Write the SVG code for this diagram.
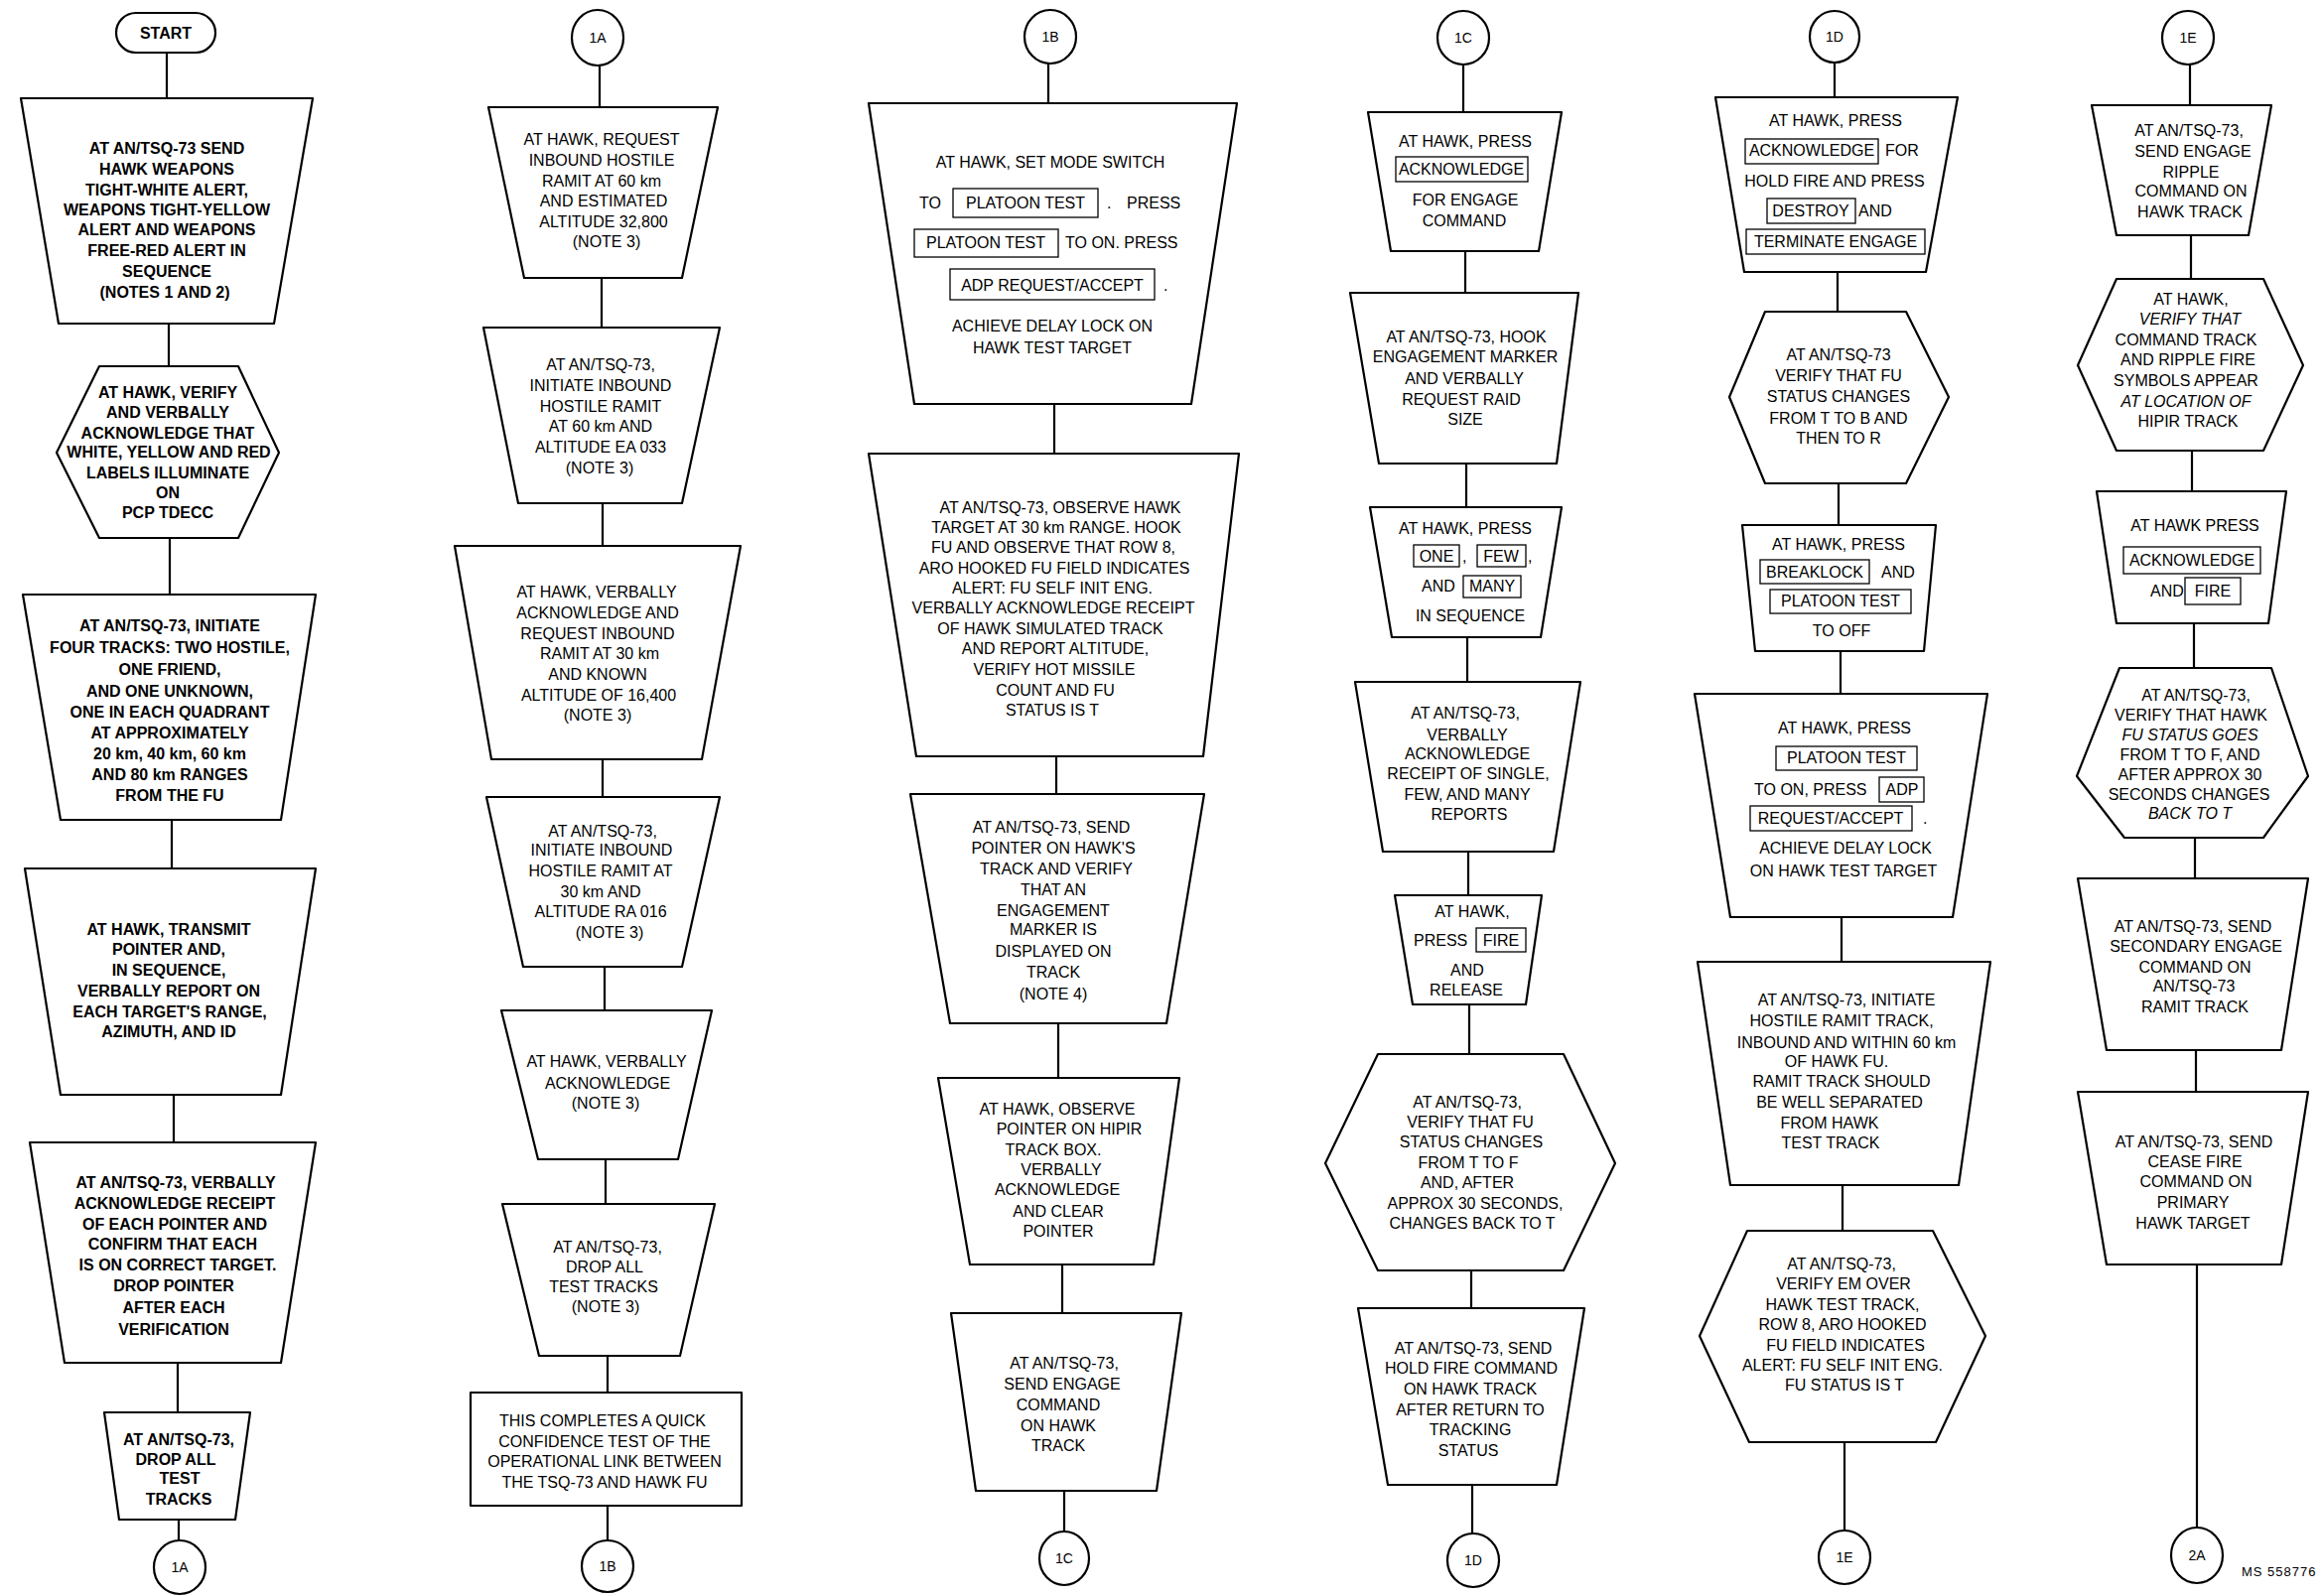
<svg xmlns="http://www.w3.org/2000/svg" width="2338" height="1608" viewBox="0 0 2338 1608">
<style>
  .s { fill: #fff; stroke: #000; stroke-width: 2.2; stroke-linejoin: round; }
  .k { fill: none; stroke: #000; stroke-width: 1.3; }
  .ln { stroke: #000; stroke-width: 2.2; fill: none; }
  text { font-family: "Liberation Sans", Arial, sans-serif; font-size: 16px; fill: #000; text-anchor: middle; }
  .b text, text.b { font-weight: bold; }
  .l { text-anchor: start; }
  .i { font-style: italic; }
  .lbl { font-size: 14px; }
  .ms { font-size: 13px; text-anchor: start; letter-spacing: 1px; }
</style>

<!-- connectors -->
<g id="connectors" class="ln">
  <line x1="168" y1="53" x2="168" y2="99"/>
  <line x1="170" y1="326" x2="170" y2="369"/>
  <line x1="171" y1="542" x2="171" y2="599"/>
  <line x1="173" y1="826" x2="173" y2="875"/>
  <line x1="175" y1="1103" x2="175" y2="1151"/>
  <line x1="179" y1="1373" x2="179" y2="1423"/>
  <line x1="180" y1="1531" x2="180" y2="1552"/>

  <line x1="604" y1="66" x2="604" y2="108"/>
  <line x1="606" y1="280" x2="606" y2="330"/>
  <line x1="607" y1="507" x2="607" y2="550"/>
  <line x1="607" y1="765" x2="607" y2="803"/>
  <line x1="609" y1="974" x2="609" y2="1018"/>
  <line x1="610" y1="1168" x2="610" y2="1213"/>
  <line x1="612" y1="1366" x2="612" y2="1403"/>
  <line x1="612" y1="1517" x2="612" y2="1552"/>

  <line x1="1056" y1="64" x2="1056" y2="104"/>
  <line x1="1062" y1="407" x2="1062" y2="457"/>
  <line x1="1064" y1="762" x2="1064" y2="800"/>
  <line x1="1066" y1="1031" x2="1066" y2="1086"/>
  <line x1="1070" y1="1274" x2="1070" y2="1323"/>
  <line x1="1072" y1="1502" x2="1072" y2="1543"/>

  <line x1="1474" y1="66" x2="1474" y2="113"/>
  <line x1="1476" y1="253" x2="1476" y2="295"/>
  <line x1="1477" y1="467" x2="1477" y2="511"/>
  <line x1="1478" y1="642" x2="1478" y2="687"/>
  <line x1="1479" y1="858" x2="1479" y2="902"/>
  <line x1="1480" y1="1012" x2="1480" y2="1062"/>
  <line x1="1482" y1="1280" x2="1482" y2="1318"/>
  <line x1="1483" y1="1496" x2="1483" y2="1545"/>

  <line x1="1848" y1="62" x2="1848" y2="98"/>
  <line x1="1851" y1="274" x2="1851" y2="314"/>
  <line x1="1852" y1="487" x2="1852" y2="529"/>
  <line x1="1854" y1="656" x2="1854" y2="699"/>
  <line x1="1855" y1="924" x2="1855" y2="969"/>
  <line x1="1856" y1="1194" x2="1856" y2="1240"/>
  <line x1="1858" y1="1453" x2="1858" y2="1542"/>

  <line x1="2206" y1="65" x2="2206" y2="106"/>
  <line x1="2207" y1="237" x2="2207" y2="281"/>
  <line x1="2208" y1="454" x2="2208" y2="495"/>
  <line x1="2210" y1="628" x2="2210" y2="673"/>
  <line x1="2211" y1="844" x2="2211" y2="885"/>
  <line x1="2212" y1="1058" x2="2212" y2="1100"/>
  <line x1="2213" y1="1274" x2="2213" y2="1539"/>
</g>

<!-- column 1 -->
<g id="start" class="b">
  <rect class="s" x="117" y="13" width="100" height="40" rx="20"/>
  <text x="167" y="39">START</text>
</g>
<g id="send-alerts" class="b">
  <polygon class="s" points="21,99 315,99 276,326 59,326"/>
  <text x="168" y="155">AT AN/TSQ-73 SEND</text>
  <text x="168" y="176">HAWK WEAPONS</text>
  <text x="168" y="197">TIGHT-WHITE ALERT,</text>
  <text x="168" y="217">WEAPONS TIGHT-YELLOW</text>
  <text x="168" y="237">ALERT AND WEAPONS</text>
  <text x="168" y="258">FREE-RED ALERT IN</text>
  <text x="168" y="279">SEQUENCE</text>
  <text x="166" y="300">(NOTES 1 AND 2)</text>
</g>
<g id="verify-labels" class="b">
  <polygon class="s" points="100,369 240,369 281,456 240,542 100,542 57,456"/>
  <text x="169" y="401">AT HAWK, VERIFY</text>
  <text x="169" y="421">AND VERBALLY</text>
  <text x="169" y="442">ACKNOWLEDGE THAT</text>
  <text x="170" y="461">WHITE, YELLOW AND RED</text>
  <text x="169" y="482">LABELS ILLUMINATE</text>
  <text x="169" y="502">ON</text>
  <text x="169" y="522">PCP TDECC</text>
</g>
<g id="initiate-four-tracks" class="b">
  <polygon class="s" points="23,599 318,599 283,826 61,826"/>
  <text x="171" y="636">AT AN/TSQ-73, INITIATE</text>
  <text x="171" y="658">FOUR TRACKS: TWO HOSTILE,</text>
  <text x="171" y="680">ONE FRIEND,</text>
  <text x="171" y="702">AND ONE UNKNOWN,</text>
  <text x="171" y="723">ONE IN EACH QUADRANT</text>
  <text x="171" y="744">AT APPROXIMATELY</text>
  <text x="171" y="765">20 km, 40 km, 60 km</text>
  <text x="171" y="786">AND 80 km RANGES</text>
  <text x="171" y="807">FROM THE FU</text>
</g>
<g id="transmit-pointer" class="b">
  <polygon class="s" points="25,875 318,875 283,1103 61,1103"/>
  <text x="170" y="942">AT  HAWK, TRANSMIT</text>
  <text x="170" y="962">POINTER AND,</text>
  <text x="170" y="983">IN SEQUENCE,</text>
  <text x="170" y="1004">VERBALLY REPORT ON</text>
  <text x="171" y="1025">EACH TARGET'S RANGE,</text>
  <text x="170" y="1045">AZIMUTH, AND ID</text>
</g>
<g id="confirm-pointer" class="b">
  <polygon class="s" points="30,1151 318,1151 283,1373 65,1373"/>
  <text x="177" y="1197">AT AN/TSQ-73, VERBALLY</text>
  <text x="176" y="1218">ACKNOWLEDGE RECEIPT</text>
  <text x="176" y="1239">OF EACH POINTER AND</text>
  <text x="174" y="1259">CONFIRM THAT EACH</text>
  <text x="179" y="1280">IS ON CORRECT TARGET.</text>
  <text x="175" y="1301">DROP POINTER</text>
  <text x="175" y="1323">AFTER EACH</text>
  <text x="175" y="1345">VERIFICATION</text>
</g>
<g id="drop-tracks-1" class="b">
  <polygon class="s" points="105,1423 252,1423 237,1531 120,1531"/>
  <text x="180" y="1456">AT AN/TSQ-73,</text>
  <text x="177" y="1476">DROP ALL</text>
  <text x="181" y="1495">TEST</text>
  <text x="180" y="1516">TRACKS</text>
</g>
<g id="off-1a">
  <ellipse class="s" cx="181" cy="1579" rx="26" ry="27"/>
  <text class="lbl" x="181" y="1584">1A</text>
</g>

<!-- column 2 -->
<g id="on-1a">
  <ellipse class="s" cx="602" cy="38" rx="26" ry="28"/>
  <text class="lbl" x="602" y="43">1A</text>
</g>
<g id="request-ramit-60">
  <polygon class="s" points="492,108 723,108 687,280 528,280"/>
  <text x="606" y="146">AT HAWK, REQUEST</text>
  <text x="606" y="167">INBOUND HOSTILE</text>
  <text x="606" y="188">RAMIT AT 60 km</text>
  <text x="608" y="208">AND ESTIMATED</text>
  <text x="608" y="229">ALTITUDE 32,800</text>
  <text x="611" y="249">(NOTE 3)</text>
</g>
<g id="initiate-ramit-60">
  <polygon class="s" points="487,330 725,330 687,507 522,507"/>
  <text x="605" y="373">AT AN/TSQ-73,</text>
  <text x="605" y="394">INITIATE INBOUND</text>
  <text x="605" y="415">HOSTILE RAMIT</text>
  <text x="605" y="435">AT 60 km AND</text>
  <text x="605" y="456">ALTITUDE EA 033</text>
  <text x="604" y="477">(NOTE 3)</text>
</g>
<g id="request-ramit-30">
  <polygon class="s" points="458,550 746,550 707,765 495,765"/>
  <text x="601" y="602">AT HAWK, VERBALLY</text>
  <text x="602" y="623">ACKNOWLEDGE AND</text>
  <text x="602" y="644">REQUEST INBOUND</text>
  <text x="604" y="664">RAMIT AT 30 km</text>
  <text x="602" y="685">AND KNOWN</text>
  <text x="603" y="706">ALTITUDE OF 16,400</text>
  <text x="602" y="726">(NOTE 3)</text>
</g>
<g id="initiate-ramit-30">
  <polygon class="s" points="490,803 725,803 687,974 527,974"/>
  <text x="607" y="843">AT AN/TSQ-73,</text>
  <text x="606" y="862">INITIATE INBOUND</text>
  <text x="605" y="883">HOSTILE RAMIT AT</text>
  <text x="605" y="904">30 km AND</text>
  <text x="605" y="924">ALTITUDE RA 016</text>
  <text x="614" y="945">(NOTE 3)</text>
</g>
<g id="acknowledge-ramit">
  <polygon class="s" points="505,1018 717,1018 683,1168 542,1168"/>
  <text x="611" y="1075">AT HAWK, VERBALLY</text>
  <text x="612" y="1097">ACKNOWLEDGE</text>
  <text x="610" y="1117">(NOTE 3)</text>
</g>
<g id="drop-tracks-2">
  <polygon class="s" points="506,1213 720,1213 685,1366 543,1366"/>
  <text x="612" y="1262">AT AN/TSQ-73,</text>
  <text x="609" y="1282">DROP ALL</text>
  <text x="608" y="1302">TEST TRACKS</text>
  <text x="610" y="1322">(NOTE 3)</text>
</g>
<g id="confidence-test-done">
  <rect class="s" x="474" y="1403" width="273" height="114"/>
  <text x="607" y="1437">THIS COMPLETES A QUICK</text>
  <text x="609" y="1458">CONFIDENCE TEST OF THE</text>
  <text x="609" y="1478">OPERATIONAL LINK BETWEEN</text>
  <text x="609" y="1499">THE TSQ-73 AND  HAWK FU</text>
</g>
<g id="off-1b">
  <ellipse class="s" cx="612" cy="1578" rx="26" ry="26"/>
  <text class="lbl" x="612" y="1583">1B</text>
</g>

<!-- column 3 -->
<g id="on-1b">
  <ellipse class="s" cx="1058" cy="37" rx="26" ry="27"/>
  <text class="lbl" x="1058" y="42">1B</text>
</g>
<g id="platoon-test-on">
  <polygon class="s" points="875,104 1246,104 1200,407 921,407"/>
  <text x="1058" y="169">AT HAWK, SET MODE SWITCH</text>
  <text class="l" x="926" y="210">TO</text>
  <rect class="k" x="960" y="190" width="146" height="29"/>
  <text x="1033" y="210">PLATOON TEST</text>
  <text class="l" x="1115" y="210">.</text>
  <text class="l" x="1135" y="210">PRESS</text>
  <rect class="k" x="921" y="231" width="145" height="28"/>
  <text x="993" y="250">PLATOON TEST</text>
  <text class="l" x="1073" y="250">TO ON.  PRESS</text>
  <rect class="k" x="957" y="271" width="206" height="31"/>
  <text x="1060" y="293">ADP REQUEST/ACCEPT</text>
  <text class="l" x="1172" y="293">.</text>
  <text x="1060" y="334">ACHIEVE DELAY LOCK ON</text>
  <text x="1060" y="356">HAWK TEST TARGET</text>
</g>
<g id="observe-hawk-target">
  <polygon class="s" points="875,457 1248,457 1212,762 923,762"/>
  <text x="1068" y="517">AT AN/TSQ-73,  OBSERVE HAWK</text>
  <text x="1064" y="537">TARGET AT 30 km RANGE. HOOK</text>
  <text x="1061" y="557">FU AND OBSERVE THAT ROW 8,</text>
  <text x="1062" y="578">ARO HOOKED FU FIELD INDICATES</text>
  <text x="1060" y="598">ALERT: FU SELF INIT ENG.</text>
  <text x="1061" y="618">VERBALLY ACKNOWLEDGE RECEIPT</text>
  <text x="1058" y="639">OF HAWK SIMULATED TRACK</text>
  <text x="1063" y="659">AND REPORT ALTITUDE,</text>
  <text x="1062" y="680">VERIFY HOT MISSILE</text>
  <text x="1063" y="701">COUNT AND FU</text>
  <text x="1060" y="721">STATUS IS T</text>
</g>
<g id="send-pointer">
  <polygon class="s" points="917,800 1213,800 1175,1031 957,1031"/>
  <text x="1059" y="839">AT AN/TSQ-73, SEND</text>
  <text x="1061" y="860">POINTER ON HAWK'S</text>
  <text x="1064" y="881">TRACK AND VERIFY</text>
  <text x="1061" y="902">THAT AN</text>
  <text x="1061" y="923">ENGAGEMENT</text>
  <text x="1061" y="942">MARKER IS</text>
  <text x="1061" y="964">DISPLAYED ON</text>
  <text x="1061" y="985">TRACK</text>
  <text x="1061" y="1007">(NOTE 4)</text>
</g>
<g id="observe-pointer">
  <polygon class="s" points="945,1086 1188,1086 1162,1274 977,1274"/>
  <text x="1065" y="1123">AT HAWK, OBSERVE</text>
  <text x="1077" y="1143">POINTER ON HIPIR</text>
  <text x="1061" y="1164">TRACK BOX.</text>
  <text x="1069" y="1184">VERBALLY</text>
  <text x="1065" y="1204">ACKNOWLEDGE</text>
  <text x="1066" y="1226">AND CLEAR</text>
  <text x="1066" y="1246">POINTER</text>
</g>
<g id="send-engage">
  <polygon class="s" points="958,1323 1190,1323 1165,1502 983,1502"/>
  <text x="1072" y="1379">AT AN/TSQ-73,</text>
  <text x="1070" y="1400">SEND ENGAGE</text>
  <text x="1066" y="1421">COMMAND</text>
  <text x="1066" y="1442">ON HAWK</text>
  <text x="1066" y="1462">TRACK</text>
</g>
<g id="off-1c">
  <ellipse class="s" cx="1072" cy="1570" rx="25" ry="27"/>
  <text class="lbl" x="1072" y="1575">1C</text>
</g>

<!-- column 4 -->
<g id="on-1c">
  <ellipse class="s" cx="1474" cy="38" rx="26" ry="27"/>
  <text class="lbl" x="1474" y="43">1C</text>
</g>
<g id="ack-engage">
  <polygon class="s" points="1378,113 1573,113 1550,253 1401,253"/>
  <text x="1476" y="148">AT HAWK, PRESS</text>
  <rect class="k" x="1406" y="158" width="133" height="25"/>
  <text x="1472" y="176">ACKNOWLEDGE</text>
  <text x="1476" y="207">FOR ENGAGE</text>
  <text x="1475" y="228">COMMAND</text>
</g>
<g id="request-raid-size">
  <polygon class="s" points="1360,295 1590,295 1568,467 1389,467"/>
  <text x="1477" y="345">AT AN/TSQ-73, HOOK</text>
  <text x="1476" y="365">ENGAGEMENT MARKER</text>
  <text x="1475" y="387">AND VERBALLY</text>
  <text x="1472" y="408">REQUEST RAID</text>
  <text x="1476" y="428">SIZE</text>
</g>
<g id="press-raid-size">
  <polygon class="s" points="1380,511 1573,511 1552,642 1402,642"/>
  <text x="1476" y="538">AT HAWK, PRESS</text>
  <rect class="k" x="1424" y="549" width="46" height="22"/>
  <text x="1447" y="566">ONE</text>
  <text class="l" x="1473" y="566">,</text>
  <rect class="k" x="1488" y="549" width="49" height="22"/>
  <text x="1512" y="566">FEW</text>
  <text class="l" x="1539" y="566">,</text>
  <text class="l" x="1432" y="596">AND</text>
  <rect class="k" x="1474" y="580" width="58" height="22"/>
  <text x="1503" y="596">MANY</text>
  <text x="1481" y="626">IN SEQUENCE</text>
</g>
<g id="ack-raid-size">
  <polygon class="s" points="1365,687 1592,687 1565,858 1393,858"/>
  <text x="1476" y="724">AT AN/TSQ-73,</text>
  <text x="1478" y="746">VERBALLY</text>
  <text x="1478" y="765">ACKNOWLEDGE</text>
  <text x="1479" y="785">RECEIPT OF SINGLE,</text>
  <text x="1478" y="806">FEW, AND MANY</text>
  <text x="1480" y="826">REPORTS</text>
</g>
<g id="press-fire">
  <polygon class="s" points="1405,902 1553,902 1537,1012 1423,1012"/>
  <text x="1483" y="924">AT HAWK,</text>
  <text class="l" x="1424" y="953">PRESS</text>
  <rect class="k" x="1487" y="935" width="50" height="24"/>
  <text x="1512" y="953">FIRE</text>
  <text x="1478" y="983">AND</text>
  <text x="1477" y="1003">RELEASE</text>
</g>
<g id="verify-status-f">
  <polygon class="s" points="1388,1062 1575,1062 1627,1172 1575,1280 1388,1280 1335,1172"/>
  <text x="1478" y="1116">AT AN/TSQ-73,</text>
  <text x="1481" y="1136">VERIFY THAT FU</text>
  <text x="1482" y="1156">STATUS CHANGES</text>
  <text x="1479" y="1177">FROM T TO F</text>
  <text x="1478" y="1197">AND, AFTER</text>
  <text x="1486" y="1218">APPROX 30 SECONDS,</text>
  <text x="1483" y="1238">CHANGES BACK TO T</text>
</g>
<g id="hold-fire">
  <polygon class="s" points="1368,1318 1596,1318 1568,1496 1398,1496"/>
  <text x="1484" y="1364">AT AN/TSQ-73, SEND</text>
  <text x="1482" y="1384">HOLD FIRE COMMAND</text>
  <text x="1481" y="1405">ON HAWK TRACK</text>
  <text x="1481" y="1426">AFTER RETURN TO</text>
  <text x="1481" y="1446">TRACKING</text>
  <text x="1479" y="1467">STATUS</text>
</g>
<g id="off-1d">
  <ellipse class="s" cx="1484" cy="1572" rx="26" ry="27"/>
  <text class="lbl" x="1484" y="1577">1D</text>
</g>

<!-- column 5 -->
<g id="on-1d">
  <ellipse class="s" cx="1848" cy="37" rx="25" ry="26"/>
  <text class="lbl" x="1848" y="42">1D</text>
</g>
<g id="terminate-engage">
  <polygon class="s" points="1728,98 1972,98 1940,274 1757,274"/>
  <text x="1849" y="127">AT HAWK, PRESS</text>
  <rect class="k" x="1758" y="140" width="134" height="25"/>
  <text x="1825" y="157">ACKNOWLEDGE</text>
  <text class="l" x="1899" y="157">FOR</text>
  <text x="1848" y="188">HOLD FIRE AND PRESS</text>
  <rect class="k" x="1780" y="200" width="89" height="25"/>
  <text x="1824" y="218">DESTROY</text>
  <text class="l" x="1872" y="218">AND</text>
  <rect class="k" x="1759" y="231" width="180" height="25"/>
  <text x="1849" y="249">TERMINATE ENGAGE</text>
</g>
<g id="verify-status-b">
  <polygon class="s" points="1778,314 1920,314 1963,400 1920,487 1778,487 1742,400"/>
  <text x="1852" y="363">AT AN/TSQ-73</text>
  <text x="1852" y="384">VERIFY THAT FU</text>
  <text x="1852" y="405">STATUS CHANGES</text>
  <text x="1852" y="427">FROM T TO B AND</text>
  <text x="1852" y="447">THEN TO R</text>
</g>
<g id="breaklock">
  <polygon class="s" points="1755,529 1950,529 1938,656 1768,656"/>
  <text x="1852" y="554">AT HAWK, PRESS</text>
  <rect class="k" x="1773" y="564" width="110" height="24"/>
  <text x="1828" y="582">BREAKLOCK</text>
  <text class="l" x="1895" y="582">AND</text>
  <rect class="k" x="1783" y="594" width="142" height="24"/>
  <text x="1854" y="611">PLATOON TEST</text>
  <text x="1855" y="641">TO OFF</text>
</g>
<g id="delay-lock">
  <polygon class="s" points="1707,699 2002,699 1967,924 1743,924"/>
  <text x="1858" y="739">AT HAWK, PRESS</text>
  <rect class="k" x="1789" y="752" width="142" height="24"/>
  <text x="1860" y="769">PLATOON TEST</text>
  <text class="l" x="1767" y="801">TO ON, PRESS</text>
  <rect class="k" x="1893" y="783" width="45" height="25"/>
  <text x="1916" y="801">ADP</text>
  <rect class="k" x="1763" y="812" width="163" height="25"/>
  <text x="1844" y="830">REQUEST/ACCEPT</text>
  <text class="l" x="1937" y="830">.</text>
  <text x="1859" y="860">ACHIEVE DELAY LOCK</text>
  <text x="1857" y="883">ON HAWK TEST TARGET</text>
</g>
<g id="initiate-ramit-track">
  <polygon class="s" points="1710,969 2005,969 1973,1194 1743,1194"/>
  <text x="1860" y="1013">AT AN/TSQ-73, INITIATE</text>
  <text x="1855" y="1034">HOSTILE RAMIT TRACK,</text>
  <text x="1860" y="1056">INBOUND AND WITHIN 60 km</text>
  <text x="1850" y="1075">OF HAWK FU.</text>
  <text x="1855" y="1095">RAMIT TRACK SHOULD</text>
  <text x="1853" y="1116">BE WELL SEPARATED</text>
  <text x="1843" y="1137">FROM HAWK</text>
  <text x="1844" y="1157">TEST TRACK</text>
</g>
<g id="verify-em">
  <polygon class="s" points="1760,1240 1947,1240 2000,1346 1950,1453 1762,1453 1712,1346"/>
  <text x="1855" y="1279">AT AN/TSQ-73,</text>
  <text x="1857" y="1299">VERIFY EM OVER</text>
  <text x="1856" y="1320">HAWK TEST TRACK,</text>
  <text x="1856" y="1340">ROW 8, ARO HOOKED</text>
  <text x="1859" y="1361">FU FIELD INDICATES</text>
  <text x="1856" y="1381">ALERT: FU SELF INIT ENG.</text>
  <text x="1858" y="1401">FU STATUS IS T</text>
</g>
<g id="off-1e">
  <ellipse class="s" cx="1858" cy="1569" rx="26" ry="27"/>
  <text class="lbl" x="1858" y="1574">1E</text>
</g>

<!-- column 6 -->
<g id="on-1e">
  <ellipse class="s" cx="2204" cy="38" rx="26" ry="27"/>
  <text class="lbl" x="2204" y="43">1E</text>
</g>
<g id="engage-ripple">
  <polygon class="s" points="2107,106 2288,106 2265,237 2132,237"/>
  <text x="2205" y="137">AT AN/TSQ-73,</text>
  <text x="2209" y="158">SEND ENGAGE</text>
  <text x="2207" y="179">RIPPLE</text>
  <text x="2207" y="198">COMMAND ON</text>
  <text x="2206" y="219">HAWK TRACK</text>
</g>
<g id="verify-ripple">
  <polygon class="s" points="2132,281 2280,281 2320,368 2280,454 2132,454 2093,368"/>
  <text x="2207" y="307">AT HAWK,</text>
  <text class="i" x="2206" y="327">VERIFY THAT</text>
  <text x="2202" y="348">COMMAND TRACK</text>
  <text x="2204" y="368">AND RIPPLE FIRE</text>
  <text x="2202" y="389">SYMBOLS APPEAR</text>
  <text class="i" x="2202" y="410">AT LOCATION OF</text>
  <text x="2204" y="430">HIPIR TRACK</text>
</g>
<g id="ack-fire">
  <polygon class="s" points="2112,495 2303,495 2285,628 2132,628"/>
  <text x="2211" y="535">AT HAWK PRESS</text>
  <rect class="k" x="2139" y="551" width="138" height="27"/>
  <text x="2208" y="570">ACKNOWLEDGE</text>
  <text class="l" x="2166" y="601">AND</text>
  <rect class="k" x="2201" y="582" width="56" height="27"/>
  <text x="2229" y="601">FIRE</text>
</g>
<g id="verify-hawk-status">
  <polygon class="s" points="2135,673 2288,673 2325,782 2280,844 2140,844 2092,782"/>
  <text x="2212" y="706">AT AN/TSQ-73,</text>
  <text x="2207" y="726">VERIFY THAT HAWK</text>
  <text class="i" x="2206" y="746">FU STATUS GOES</text>
  <text x="2206" y="766">FROM T TO F, AND</text>
  <text x="2206" y="786">AFTER APPROX 30</text>
  <text x="2205" y="806">SECONDS CHANGES</text>
  <text class="i" x="2206" y="825">BACK TO T</text>
</g>
<g id="secondary-engage">
  <polygon class="s" points="2093,885 2325,885 2298,1058 2122,1058"/>
  <text x="2209" y="939">AT AN/TSQ-73, SEND</text>
  <text x="2212" y="959">SECONDARY ENGAGE</text>
  <text x="2211" y="980">COMMAND ON</text>
  <text x="2210" y="999">AN/TSQ-73</text>
  <text x="2211" y="1020">RAMIT TRACK</text>
</g>
<g id="cease-fire">
  <polygon class="s" points="2093,1100 2325,1100 2298,1274 2122,1274"/>
  <text x="2210" y="1156">AT AN/TSQ-73, SEND</text>
  <text x="2211" y="1176">CEASE FIRE</text>
  <text x="2212" y="1196">COMMAND ON</text>
  <text x="2209" y="1217">PRIMARY</text>
  <text x="2209" y="1238">HAWK TARGET</text>
</g>
<g id="off-2a">
  <ellipse class="s" cx="2213" cy="1567" rx="26" ry="28"/>
  <text class="lbl" x="2213" y="1572">2A</text>
</g>
<text class="ms" x="2258" y="1588">MS 558776</text>
</svg>
